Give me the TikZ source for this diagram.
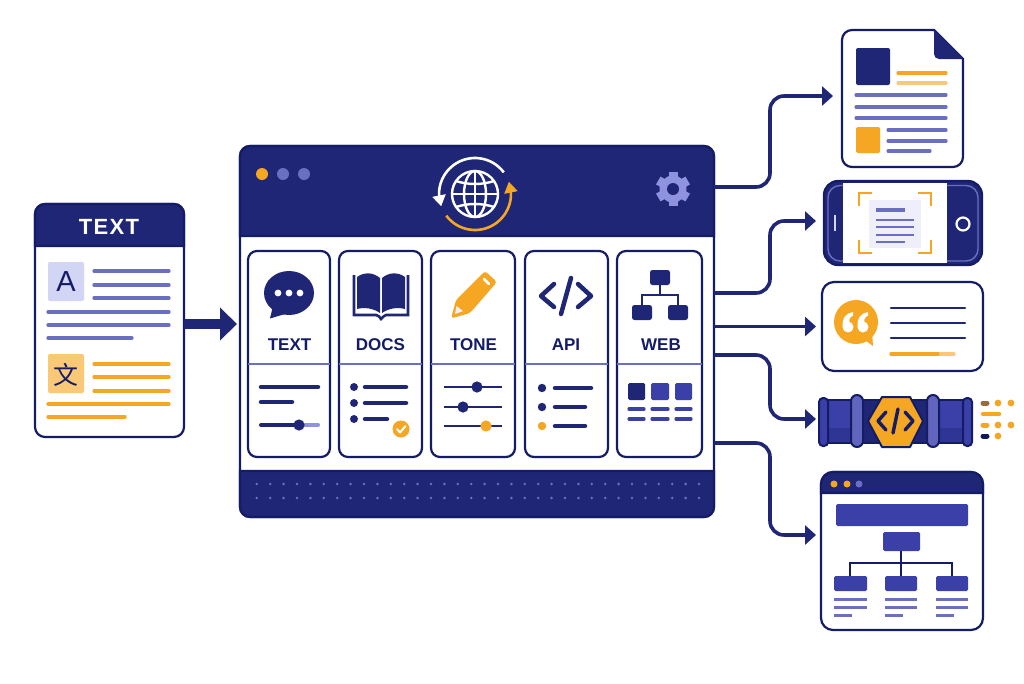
\documentclass[tikz,border=0pt]{standalone}
\usepackage{fontspec}
\setmainfont{Liberation Sans}
\newfontfamily\headfont[LetterSpace=6]{Liberation Sans}
\newfontfamily\cjkfont{Noto Sans CJK SC}
\usetikzlibrary{arrows.meta,bending}
\definecolor{navy}{HTML}{1E2675}
\definecolor{ink}{HTML}{141C66}
\definecolor{royal}{HTML}{3A40A8}
\definecolor{purp}{HTML}{6B6FC2}
\definecolor{lav}{HTML}{8F92DE}
\definecolor{pale}{HTML}{D3D5F4}
\definecolor{paper}{HTML}{EEEFFB}
\definecolor{amber}{HTML}{F5A623}
\definecolor{sand}{HTML}{FBC877}
\definecolor{rust}{HTML}{9A6A3A}
\definecolor{pipelow}{HTML}{2F3594}
\tikzset{
  framebox/.style={draw=ink, line width=2.2, fill=white, inner sep=0, outer sep=0, rounded corners=#1},
  framebox/.default=10,
  holder/.style={inner sep=0, outer sep=0},
  cardtitle/.style={text=ink, inner sep=0, font=\fontsize{17}{20}\selectfont\bfseries},
  rowline/.style={line width=3.2, line cap=round, draw=#1},
  rowline/.default=purp,
  thickrow/.style={line width=4.5, line cap=round, draw=navy},
  flow/.style={draw=navy, line width=3.6, rounded corners=14, -{Triangle[length=11,width=19]}},
}
\begin{document}
\begin{tikzpicture}[x=1pt, y=-1pt]
\useasboundingbox (0,0) rectangle (1024,683);
\fill[white] (0,0) rectangle (1024,683);

% source document
\node[framebox=10, minimum width=149, minimum height=233] (srcdoc) at (109.5,320.5) {};
\fill[navy, draw=ink, line width=2.2] (35,246) [rounded corners=10] -- (35,204) -- (184,204) [sharp corners] -- (184,246) -- cycle;
\node[text=white, inner sep=0, font=\fontsize{22}{24}\selectfont\headfont\bfseries] (srctitle) at (109,227) {TEXT};
\fill[pale, rounded corners=2] (48,262) rectangle (84,301);
\node[text=ink, inner sep=0, font=\fontsize{29}{30}\selectfont] (srcA) at (66,282) {A};
\foreach \yy in {271,285,298} \draw[rowline] (94,\yy) -- (169,\yy);
\foreach \yy in {312,325} \draw[rowline] (48,\yy) -- (169,\yy);
\draw[rowline] (48,338) -- (132,338);
\fill[sand, rounded corners=2] (48,354) rectangle (84,393);
\node[text=ink, inner sep=0, font=\fontsize{25}{26}\selectfont\cjkfont] (srcB) at (66,375) {文};
\foreach \yy in {364,377,391} \draw[rowline=amber] (94,\yy) -- (169,\yy);
\draw[rowline=amber] (48,404) -- (169,404);
\draw[rowline=amber] (48,417) -- (125,417);

% main panel
\node[framebox=10, minimum width=474, minimum height=371] (panel) at (477,331.5) {};
\fill[navy, draw=ink, line width=2.2] (240,236) [rounded corners=10] -- (240,146) -- (714,146) [sharp corners] -- (714,236) -- cycle;
\fill[navy, draw=ink, line width=2.2] (240,471) [rounded corners=10] -- (240,517) -- (714,517) [sharp corners] -- (714,471) -- cycle;
\fill[amber] (262,174) circle[radius=6];
\fill[purp] (283,174) circle[radius=6];
\fill[purp] (304,174) circle[radius=6];
\foreach \ii in {0,...,33} {
  \fill[purp] (256.8+13.4*\ii,484) circle[radius=1.4];
  \fill[purp] (256.8+13.4*\ii,498) circle[radius=1.4];
}

% globe with the two turning arrows
\draw[white, line width=2.4] (475,194) circle[radius=23];
\draw[white, line width=2.4] (475,194) ellipse[x radius=11, y radius=23];
\draw[white, line width=2.4] (475,171) -- (475,217);
\draw[white, line width=2.4] (452,194) -- (498,194);
\draw[white, line width=2.4] (456,181) .. controls (468,185) and (482,185) .. (494,181);
\draw[white, line width=2.4] (456,207) .. controls (468,203) and (482,203) .. (494,207);
\draw[white, line width=2.6, -{Triangle[length=11,width=13]}] (475,194) ++(-37:36) arc[start angle=-37, end angle=-200, radius=36];
\draw[amber, line width=2.6, -{Triangle[length=11,width=13]}] (475,194) ++(-217:36) arc[start angle=-217, end angle=-380, radius=36];

% gear
\foreach \aa in {30,90,...,330} \draw[lav, line width=9] (673,189) ++(\aa:9) -- ++(\aa:8);
\fill[lav] (673,189) circle[radius=13.5];
\fill[navy] (673,189) circle[radius=6];

% five cards
\node[framebox=9, minimum width=82, minimum height=206] (cardtext) at (289,354) {};
\node[framebox=9, minimum width=83, minimum height=206] (carddocs) at (380.5,354) {};
\node[framebox=9, minimum width=84, minimum height=206] (cardtone) at (473,354) {};
\node[framebox=9, minimum width=83, minimum height=206] (cardapi) at (566.5,354) {};
\node[framebox=9, minimum width=85, minimum height=206] (cardweb) at (659.5,354) {};
\foreach \cc in {cardtext,carddocs,cardtone,cardapi,cardweb}
  \draw[purp, line width=1.6] (\cc.west |- 0,364) -- (\cc.east |- 0,364);
\node[cardtitle] (ttext) at (289.5,345) {TEXT};
\node[cardtitle] (tdocs) at (380.5,345) {DOCS};
\node[cardtitle] (ttone) at (473.5,345) {TONE};
\node[cardtitle] (tapi) at (566,345) {API};
\node[cardtitle] (tweb) at (661,345) {WEB};

% card: text
\fill[navy] (289,293) ellipse[x radius=25, y radius=22];
\fill[navy] (273,306) -- (270,318.5) -- (285,314) -- cycle;
\foreach \xx in {278,289,300} \fill[white] (\xx,293) circle[radius=3.4];
\draw[thickrow] (261,387) -- (318,387);
\draw[thickrow] (261,402) -- (292,402);
\draw[line width=4, line cap=round, draw=lav] (299,425) -- (318,425);
\draw[line width=4, line cap=round, draw=navy] (261,425) -- (299,425);
\fill[navy] (299,425) circle[radius=5.6];

% card: docs
\draw[navy, line width=2.6] (354,275) -- (354,315) -- (376,315) .. controls (379,316) .. (381,319) .. controls (384,316) .. (386,315) -- (408,315) -- (408,275);
\fill[navy] (357,277) .. controls (364,272) and (373,272) .. (380,278) -- (380,313) .. controls (373,308) and (364,307) .. (357,309) -- cycle;
\fill[navy] (405,277) .. controls (398,272) and (389,272) .. (382,278) -- (382,313) .. controls (389,308) and (398,307) .. (405,309) -- cycle;
\foreach \yy in {387,403,419} \fill[navy] (354,\yy) circle[radius=4];
\draw[thickrow] (365,387) -- (406,387);
\draw[thickrow] (365,403) -- (406,403);
\draw[thickrow] (365,419) -- (387,419);
\fill[amber] (401,429) circle[radius=8.5];
\draw[white, line width=2, line cap=round, line join=round] (397,429) -- (400,432.5) -- (405.5,426);

% card: tone
\fill[amber, rounded corners=3] (456,300) -- (485,271) -- (497,282) -- (470,313) -- (451,318.5) -- cycle;
\draw[white, line width=2.6, line cap=round] (484,279) -- (489,284);
\fill[paper] (456.5,306) -- (463,311) -- (455,314) -- cycle;
\foreach \yy in {387,407,426} \draw[navy, line width=2.5] (444,\yy) -- (502,\yy);
\fill[navy] (477,387) circle[radius=5.6];
\fill[navy] (463,407) circle[radius=5.6];
\fill[amber] (486,426) circle[radius=5.6];

% card: api
\draw[navy, line width=4.5, line cap=round, line join=round] (554,284) -- (541,296) -- (554,307);
\draw[navy, line width=4.5, line cap=round, line join=round] (578,284) -- (591,296) -- (578,307);
\draw[navy, line width=4.5, line cap=round] (571,278) -- (561,314);
\fill[navy] (542,388) circle[radius=4.2];
\fill[navy] (542,407) circle[radius=4.2];
\fill[amber] (542,426) circle[radius=4.2];
\draw[thickrow] (555,388) -- (591,388);
\draw[thickrow] (555,407) -- (585,407);
\draw[thickrow] (555,426) -- (585,426);

% card: web
\fill[navy, rounded corners=2.5] (650,270) rectangle (670,285);
\fill[navy, rounded corners=2.5] (632,305) rectangle (652,320);
\fill[navy, rounded corners=2.5] (668,305) rectangle (688,320);
\draw[navy, line width=2.5] (660,285) -- (660,295);
\draw[navy, line width=2.5] (642,305) -- (642,295) -- (678,295) -- (678,305);
\fill[navy, rounded corners=1.5] (628,383) rectangle (645,400);
\fill[royal, rounded corners=1.5] (651,383) rectangle (669,400);
\fill[royal, rounded corners=1.5] (675,383) rectangle (692,400);
\foreach \yy in {409,419} {
  \draw[rowline=royal] (629,\yy) -- (644,\yy);
  \draw[rowline=royal] (652,\yy) -- (668,\yy);
  \draw[rowline=royal] (676,\yy) -- (691,\yy);
}

% output: document
\node[holder, minimum width=121, minimum height=137] (docout) at (902.5,98.5) {};
\draw[draw=ink, fill=white, line width=2.2] (934,30) [rounded corners=10] -- (842,30) -- (842,167) -- (963,167) [sharp corners] -- (963,59) -- cycle;
\fill[navy] (934,30) -- (963,59) [rounded corners=5] -- (934,59) [sharp corners] -- cycle;
\fill[navy, rounded corners=2] (856,48) rectangle (890,85);
\draw[rowline=amber] (898,73) -- (946,73);
\draw[rowline=sand] (898,83) -- (946,83);
\foreach \yy in {95,107,118} \draw[rowline] (856,\yy) -- (946,\yy);
\fill[amber, rounded corners=1.5] (856,127) rectangle (880,153);
\draw[rowline] (888,130) -- (946,130);
\draw[rowline] (888,141) -- (946,141);
\draw[rowline] (888,151) -- (930,151);

% output: phone
\node[framebox=14, fill=navy, minimum width=158, minimum height=84] (phone) at (903,223) {};
\fill[white] (843,183) rectangle (947,263);
\draw[purp, line width=1.4] (843,185.5) -- (840,185.5) arc[start angle=-90, end angle=-180, radius=12] -- (828,249) arc[start angle=-180, end angle=-270, radius=12] -- (843,261);
\draw[purp, line width=1.4] (947,185.5) -- (966,185.5) arc[start angle=-90, end angle=0, radius=12] -- (978,249) arc[start angle=0, end angle=90, radius=12] -- (947,261);
\draw[pale, line width=2.2] (835,215) -- (835,231);
\draw[white, line width=2.2] (963,224) circle[radius=6.5];
\fill[paper] (869,200) rectangle (921,248);
\draw[amber, line width=2.6] (859,206) -- (859,193) -- (872,193);
\draw[amber, line width=2.6] (918,193) -- (931,193) -- (931,206);
\draw[amber, line width=2.6] (859,240) -- (859,253) -- (872,253);
\draw[amber, line width=2.6] (918,253) -- (931,253) -- (931,240);
\draw[purp, line width=3.4] (876,210) -- (905,210);
\foreach \yy in {220,227,235} \draw[purp, line width=2.4] (876,\yy) -- (914,\yy);
\draw[purp, line width=2.4] (876,242) -- (905,242);

% output: quote
\node[framebox=12, minimum width=161, minimum height=89] (quote) at (902.5,326.5) {};
\fill[amber] (856,322) circle[radius=22];
\fill[amber] (862,338) -- (873,346) -- (872,332) -- cycle;
\foreach \dx in {0,15} {
  \fill[white, xshift=\dx] (848,327) circle[radius=5.5];
  \fill[white, xshift=\dx] (842.5,327) .. controls (842,318) and (846,313) .. (853,312) -- (853,315.5) .. controls (850,317) and (848,320) .. (850,323) -- cycle;
}
\foreach \yy in {308,323,338} \draw[navy, line width=2.6, line cap=round] (891,\yy) -- (965,\yy);
\draw[rowline=sand] (891,354) -- (954,354);
\draw[rowline=amber] (891,354) -- (938,354);

% output: pipe
\node[holder, minimum width=152, minimum height=52] (pipe) at (895,421) {};
\fill[royal, draw=ink, line width=2] (823,400) rectangle (970,443);
\fill[pipelow] (824,428) rectangle (969,442);
\fill[navy, draw=ink, line width=2] (857,400) rectangle (933,443);
\fill[royal, draw=ink, line width=2, rounded corners=4] (819,398) rectangle (828,446);
\fill[royal, draw=ink, line width=2, rounded corners=4] (963,398) rectangle (972,446);
\fill[purp!80!royal, draw=ink, line width=2, rounded corners=6] (851,395) rectangle (863,447);
\fill[purp!80!royal, draw=ink, line width=2, rounded corners=6] (927,395) rectangle (939,447);
\fill[amber, draw=ink, line width=2, line join=round] (868,421) -- (882,397) -- (910,397) -- (923,421) -- (910,447) -- (882,447) -- cycle;
\draw[ink, line width=3.4, line cap=round, line join=round] (886,412) -- (878,421) -- (886,430);
\draw[ink, line width=3.4, line cap=round, line join=round] (905,412) -- (913,421) -- (905,430);
\draw[ink, line width=3.4, line cap=round] (898,409) -- (893,433);
\draw[rust, line width=5, line cap=round] (983,403) -- (987,403);
\fill[amber] (998,403) circle[radius=3.4];
\fill[amber] (1011,403) circle[radius=3.4];
\draw[amber, line width=4.4, line cap=round] (983,414) -- (999,414);
\draw[amber, line width=5, line cap=round] (983,425) -- (987,425);
\fill[amber] (998,425) circle[radius=3.4];
\fill[amber] (1011,425) circle[radius=3.4];
\draw[ink!85!black, line width=5, line cap=round] (983,436) -- (987,436);
\fill[amber] (998,436) circle[radius=3.4];

% output: web page
\node[framebox=12, minimum width=162, minimum height=158] (web) at (902,551) {};
\fill[navy, draw=ink, line width=2.2] (821,493) [rounded corners=12] -- (821,472) -- (983,472) [sharp corners] -- (983,493) -- cycle;
\fill[amber] (834,484) circle[radius=3.5];
\fill[amber] (847,484) circle[radius=3.5];
\fill[purp] (859,484) circle[radius=3.5];
\fill[royal, rounded corners=1.5] (836,504) rectangle (968,526);
\fill[royal, rounded corners=1.5] (883,532) rectangle (920,551);
\draw[ink, line width=2.8] (901,551) -- (901,576);
\draw[ink, line width=2.8] (850,576) -- (850,563) -- (952,563) -- (952,576);
\foreach \xx/\xy in {834/867,885/917,936/968} {
  \fill[royal, rounded corners=1.5] (\xx,576) rectangle (\xy,591);
  \draw[purp, line width=3] (\xx,599) -- (\xy,599);
  \draw[purp, line width=3] (\xx,607) -- (\xy,607);
  \draw[purp, line width=3] (\xx,615) -- ++(18,0);
}

% connectors
\draw[navy, line width=10, shorten >=3, -{Triangle[length=17,width=32]}] ([yshift=-3.5]srcdoc.east) -- ([yshift=7.5]panel.west);
\draw[flow, shorten >=9] (panel.east |- 0,187) -- (770,187) |- ([yshift=2.5]docout.west);
\draw[flow, shorten >=8] (panel.east |- 0,293) -- (770,293) |- ([yshift=2]phone.west);
\draw[flow, shorten >=6] (panel.east |- 0,326.5) -- (quote.west);
\draw[flow, shorten >=3] (panel.east |- 0,355) -- (770,355) |- ([yshift=2]pipe.west);
\draw[flow, shorten >=5] (panel.east |- 0,443) -- (770,443) |- ([yshift=16]web.west);
\end{tikzpicture}
\end{document}
